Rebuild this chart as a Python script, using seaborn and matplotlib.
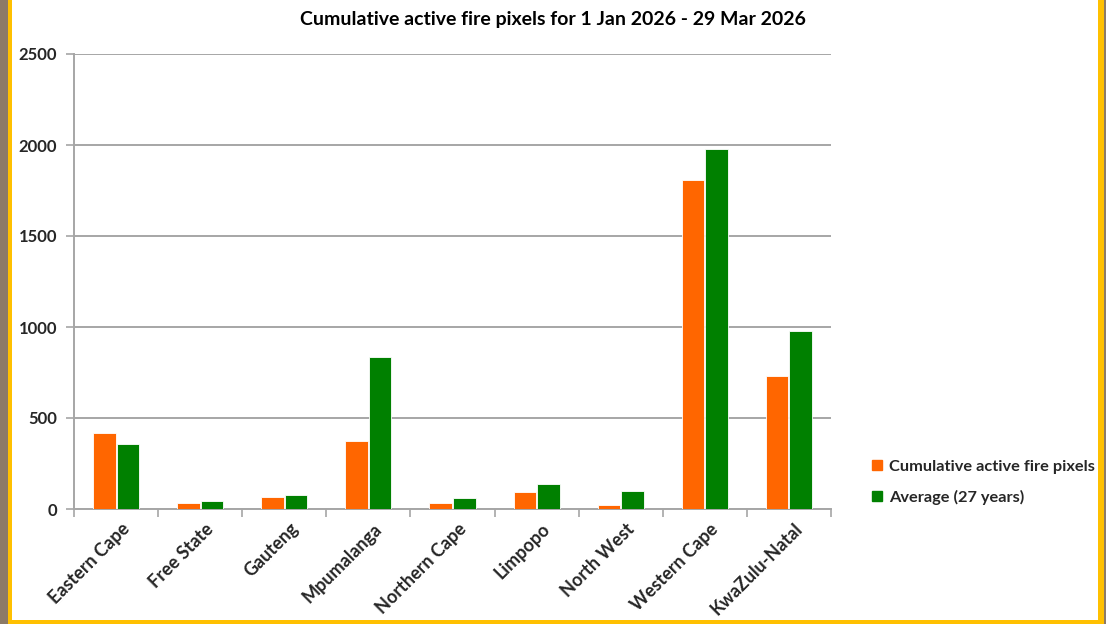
import matplotlib
matplotlib.use("Agg")
import matplotlib.pyplot as plt
import matplotlib.transforms as mtransforms
from matplotlib.patches import Rectangle
from matplotlib.lines import Line2D
import numpy as np
import pandas as pd
import seaborn as sns

# Provinces and cumulative fire pixel counts
provinces = ["Eastern Cape", "Free State", "Gauteng", "Mpumalanga", "Northern Cape",
             "Limpopo", "North West", "Western Cape", "KwaZulu-Natal"]
current = [418, 32, 68, 373, 35, 91, 22, 1809, 733]
average = [356, 46, 77, 836, 61, 135, 99, 1980, 980]
series_names = ["Cumulative active fire pixels", "Average (27 years)"]
y_ticks = [0, 500, 1000, 1500, 2000, 2500]
title = "Cumulative active fire pixels for 1 Jan 2026 - 29 Mar 2026"

palette = {series_names[0]: "#FF6600", series_names[1]: "#008000"}
grid_col = "#A6A6A6"

df = pd.DataFrame({
    "province": provinces * 2,
    "pixels": current + average,
    "series": [series_names[0]] * len(provinces) + [series_names[1]] * len(provinces),
})

sns.set_theme(style="white")
plt.rcParams["font.family"] = ["Lato", "DejaVu Sans"]
plt.rcParams["font.weight"] = "bold"

fig = plt.figure(figsize=(11.06, 6.24), dpi=100)
fig.patch.set_facecolor("white")
ax = fig.add_axes([74 / 1106, 1 - 509 / 624, (831 - 74) / 1106, (509 - 54) / 624])

sns.barplot(data=df, x="province", y="pixels", hue="series", palette=palette,
            width=0.56, gap=0.04, edgecolor="white", linewidth=0.6,
            saturation=1, ax=ax, legend=False, zorder=3)

ax.set_ylim(0, 2500)
ax.set_xlim(-0.5, len(provinces) - 0.5)
ax.set_yticks(y_ticks)
ax.set_yticklabels([str(v) for v in y_ticks], fontsize=12, fontweight="bold")
ax.yaxis.grid(True, color=grid_col, linewidth=1.4, zorder=0)
ax.set_axisbelow(True)
ax.tick_params(axis="y", which="major", length=6, width=1.2, color=grid_col,
               direction="out", left=True, pad=6)

# category labels at centers, tick marks at category boundaries
ax.set_xticks(range(len(provinces)))
ax.set_xticklabels(provinces, rotation=45, ha="right", rotation_mode="anchor",
                   fontsize=13, fontweight="bold")
ax.tick_params(axis="x", which="major", length=0, pad=8)
shift = mtransforms.ScaledTranslation(5 / 100, 0, fig.dpi_scale_trans)
for lbl in ax.get_xticklabels():
    lbl.set_transform(lbl.get_transform() + shift)
ax.set_xticks(np.arange(-0.5, len(provinces)), minor=True)
ax.tick_params(axis="x", which="minor", length=6, width=1.2, color=grid_col,
               direction="out", bottom=True)

ax.set_xlabel("")
ax.set_ylabel("")
for side in ["top", "right"]:
    ax.spines[side].set_visible(False)
for side in ["left", "bottom"]:
    ax.spines[side].set_color(grid_col)
    ax.spines[side].set_linewidth(1.4)

fig.text(553 / 1106, 1 - 20 / 624, title, ha="center", va="center",
         fontsize=14, fontweight="bold", color="black")

handles = [Line2D([0], [0], marker="s", linestyle="none", markersize=7,
                  markerfacecolor=palette[n], markeredgecolor=palette[n]) for n in series_names]
fig.legend(handles, series_names, loc="center left",
           bbox_to_anchor=(866 / 1106, 1 - 482 / 624), frameon=False,
           prop={"size": 11.8, "weight": "bold"}, handlelength=0.6,
           handletextpad=0.4, labelspacing=0.95, borderaxespad=0)

# page frame: textured edge strip and gold border
fig.patches.append(Rectangle((0, 0), 8 / 1106, 1, transform=fig.transFigure,
                             facecolor="#8C7A66", edgecolor="none", zorder=0))
fig.patches.append(Rectangle((1104 / 1106, 0), 2 / 1106, 1, transform=fig.transFigure,
                             facecolor="#8C7A66", edgecolor="none", zorder=0))
gold = "#FFC000"
fig.patches.append(Rectangle((8 / 1106, 0), 4 / 1106, 1, transform=fig.transFigure,
                             facecolor=gold, edgecolor="none", zorder=1))
fig.patches.append(Rectangle((1098 / 1106, 0), 6 / 1106, 1, transform=fig.transFigure,
                             facecolor=gold, edgecolor="none", zorder=1))
fig.patches.append(Rectangle((8 / 1106, 0), 1096 / 1106, 4 / 624, transform=fig.transFigure,
                             facecolor=gold, edgecolor="none", zorder=1))

fig.savefig("out.png", dpi=100, facecolor="white")
